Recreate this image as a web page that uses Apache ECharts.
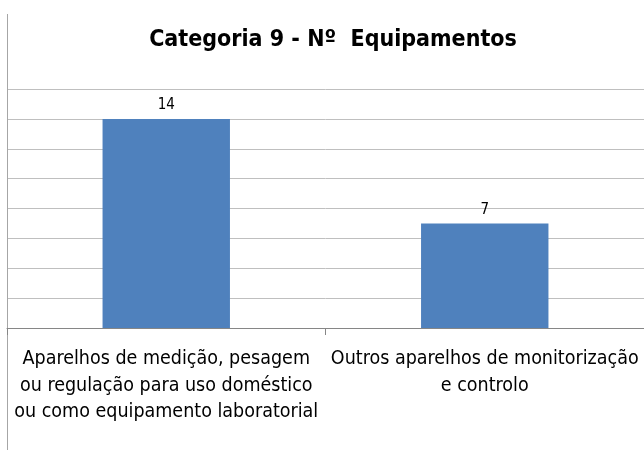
<!DOCTYPE html>
<html>
<head>
<meta charset="utf-8">
<style>
  html, body { margin: 0; padding: 0; background: #ffffff; }
  #chart { width: 644px; height: 450px; }
</style>
<script src="https://cdn.jsdelivr.net/npm/echarts@6/dist/echarts.min.js"></script>
</head>
<body>
<div id="chart"></div>
<script>
// Categoria 9 – number of equipment items per sub-category
const categories = [
  'Aparelhos de medição, pesagem\nou regulação para uso doméstico\nou como equipamento laboratorial',
  'Outros aparelhos de monitorização\ne controlo'
];
const counts = [14, 7];
const titleText = 'Categoria 9 - Nº  Equipamentos';

const narrow = "'Liberation Sans Narrow', 'DejaVu Sans Condensed', 'Roboto', sans-serif";

const chart = echarts.init(document.getElementById('chart'), null, { renderer: 'canvas' });
chart.setOption({
  animation: false,
  backgroundColor: '#ffffff',
  title: {
    text: titleText,
    left: 328,
    textAlign: 'center',
    top: 24,
    textStyle: { fontFamily: narrow, fontWeight: 'bold', fontSize: 23, color: '#000000' }
  },
  graphic: [{
    type: 'line',
    shape: { x1: 7.5, y1: 14, x2: 7.5, y2: 450 },
    style: { stroke: '#a6a6a6', lineWidth: 1 },
    z: 0
  }],
  grid: { left: 7, right: -3, top: 89, bottom: 122, containLabel: false },
  xAxis: {
    type: 'category',
    data: categories,
    axisLine: { show: true, lineStyle: { color: '#868686', width: 1 } },
    axisTick: { show: true, length: 7, lineStyle: { color: '#868686' } },
    axisLabel: {
      interval: 0,
      margin: 18,
      fontFamily: narrow,
      fontSize: 19.5,
      lineHeight: 26.5,
      color: '#000000'
    }
  },
  yAxis: {
    type: 'value',
    min: 0,
    max: 16,
    interval: 2,
    axisLine: { show: true, lineStyle: { color: '#a6a6a6' } },
    axisTick: { show: false },
    axisLabel: { show: false },
    splitLine: { show: true, lineStyle: { color: '#bfbfbf', width: 1 } }
  },
  series: [{
    type: 'bar',
    data: counts,
    barWidth: '40%',
    itemStyle: { color: '#4f81bd' },
    label: {
      show: true,
      position: 'top',
      distance: 6,
      fontFamily: narrow,
      fontSize: 15,
      color: '#000000'
    }
  }]
});
</script>
</body>
</html>
